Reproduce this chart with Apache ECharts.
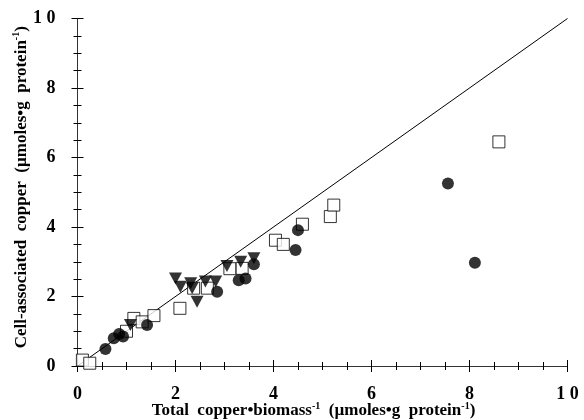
<!DOCTYPE html>
<html><head><meta charset="utf-8">
<script src="https://cdn.jsdelivr.net/npm/echarts@6/dist/echarts.min.js"></script>
<style>html,body{margin:0;padding:0;background:#fff}#c{width:584px;height:420px}</style>
</head><body><div id="c"></div>
<script>
var xTicks = [0, 2, 4, 6, 8, 10];
var yTicks = [0, 2, 4, 6, 8, 10];
var circlesX = [0.57, 0.74, 0.85, 0.93, 1.42, 2.85, 3.29, 3.43, 3.60, 4.45, 4.50, 7.56, 8.11];
var circlesY = [0.49, 0.80, 0.92, 0.85, 1.18, 2.14, 2.47, 2.52, 2.93, 3.34, 3.91, 5.25, 2.97];
var squaresX = [0.10, 0.25, 1.00, 1.15, 1.32, 1.56, 2.09, 2.37, 2.65, 3.11, 3.36, 4.04, 4.20, 4.59, 5.16, 5.23, 8.60];
var squaresY = [0.17, 0.08, 1.00, 1.37, 1.27, 1.45, 1.66, 2.24, 2.24, 2.80, 2.81, 3.62, 3.50, 4.08, 4.30, 4.63, 6.45];
var trianglesX = [1.08, 2.00, 2.10, 2.31, 2.34, 2.44, 2.61, 2.82, 3.05, 3.33, 3.60];
var trianglesY = [1.18, 2.52, 2.28, 2.38, 2.24, 1.85, 2.43, 2.43, 2.88, 3.00, 3.10];
var lineX = [0, 10];
var lineY = [0, 10];

function zip(a, b) { return a.map(function (v, i) { return [v, b[i]]; }); }
function fmt(v) { return v === 10 ? '1 0' : String(v); }

var serif = '"Liberation Serif","DejaVu Serif",serif';
var axisCol = '#333';
var rich = {
  n: { fontFamily: serif, fontWeight: 'bold', fontSize: 17, color: '#000', lineHeight: 20 },
  s: { fontFamily: serif, fontWeight: 'bold', fontSize: 10, color: '#000', verticalAlign: 'top', lineHeight: 11 }
};

function xAx(pos, show) {
  return {
    type: 'value', position: pos, min: xTicks[0], max: xTicks[xTicks.length - 1], interval: 2,
    axisLine: { show: true, lineStyle: { color: axisCol, width: 1 } },
    axisTick: { show: true, inside: true, length: 6, lineStyle: { color: '#000' } },
    minorTick: { show: true, splitNumber: 4, length: 4, lineStyle: { color: '#000' } },
    splitLine: { show: false },
    axisLabel: { show: show, formatter: fmt, fontFamily: serif, fontWeight: 'bold', fontSize: 18, color: '#000', margin: 19 },
    name: show ? '{n|Total  copper•biomass}{s|-1}{n|  (µmoles•g  protein}{s|-1}{n|)}' : '',
    nameLocation: 'middle', nameGap: 35, nameMoveOverlap: false,
    nameTextStyle: { rich: rich, padding: [0, 18, 0, 0] }
  };
}
function yAx(pos, show) {
  return {
    type: 'value', position: pos, min: yTicks[0], max: yTicks[yTicks.length - 1], interval: 2,
    axisLine: { show: true, lineStyle: { color: axisCol, width: 1 } },
    axisTick: { show: true, inside: true, length: 6, lineStyle: { color: '#000' } },
    minorTick: { show: true, splitNumber: 4, length: 4, lineStyle: { color: '#000' } },
    splitLine: { show: false },
    axisLabel: { show: show, formatter: fmt, fontFamily: serif, fontWeight: 'bold', fontSize: 18, color: '#000', margin: 22 },
    name: show ? '{n|Cell-associated  copper  (µmoles•g  protein}{s|-1}{n|)}' : '',
    nameLocation: 'middle', nameGap: 46, nameRotate: 90, nameMoveOverlap: false,
    nameTextStyle: { rich: rich, padding: [0, 0, 0, 10] }
  };
}

var chart = echarts.init(document.getElementById('c'), null, { renderer: 'canvas' });
chart.setOption({
  animation: false,
  backgroundColor: '#fff',
  grid: { left: 77.5, right: 16.5, top: 18.5, bottom: 54, containLabel: false, outerBoundsMode: 'none' },
  xAxis: [xAx('bottom', true), xAx('top', false)],
  yAxis: [yAx('left', true), yAx('right', false)],
  series: [
    { type: 'line', data: zip(lineX, lineY), symbol: 'none', lineStyle: { color: '#000', width: 1 }, z: 1 },
    { type: 'scatter', data: zip(squaresX, squaresY), symbol: 'rect', symbolSize: 12,
      itemStyle: { color: '#fff', borderColor: '#000', borderWidth: 1 }, z: 2 },
    { type: 'scatter', data: zip(trianglesX, trianglesY), symbol: 'triangle', symbolRotate: 180, symbolSize: [13, 12],
      itemStyle: { color: '#000' }, z: 3 },
    { type: 'scatter', data: zip(circlesX, circlesY), symbol: 'circle', symbolSize: 12,
      itemStyle: { color: '#000' }, z: 4 }
  ]
});
</script></body></html>
